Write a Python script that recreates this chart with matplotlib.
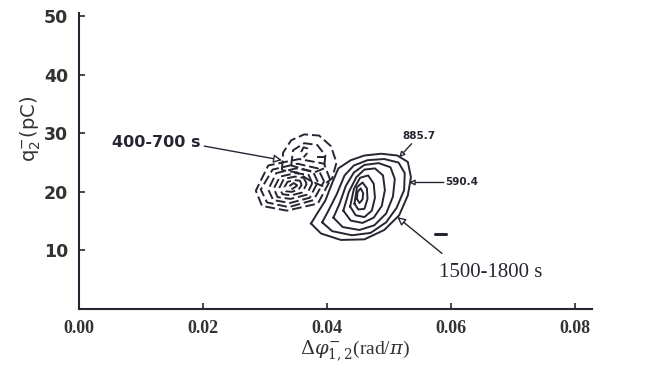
import matplotlib.pyplot as plt

# ticks
x_ticks = [0.00, 0.02, 0.04, 0.06, 0.08]
x_tick_labels = ['0.00', '0.02', '0.04', '0.06', '0.08']
y_ticks = [10, 20, 30, 40, 50]

# contour levels marked on the plot
level_labels = ['885.7', '590.4']
period_labels = ['400-700 s', '1500-1800 s']

# 1500-1800 s contours (solid), outer -> inner
solid_rings = [
    ([0.0374, 0.0390, 0.0422, 0.0460, 0.0492, 0.0516, 0.0530, 0.0535, 0.0530,
      0.0513, 0.0487, 0.0460, 0.0438, 0.0418, 0.0408, 0.0397, 0.0382],
     [14.6, 12.9, 11.8, 11.9, 13.5, 16.0, 19.4, 22.5, 25.1,
      26.2, 26.5, 26.2, 25.4, 24.0, 21.5, 18.5, 16.0]),
    ([0.0392, 0.0408, 0.0440, 0.0470, 0.0495, 0.0512, 0.0524, 0.0525, 0.0515,
      0.0492, 0.0465, 0.0443, 0.0428, 0.0415, 0.0402],
     [14.8, 13.3, 12.6, 13.0, 14.8, 17.3, 20.3, 23.2, 25.0,
      25.6, 25.4, 24.5, 22.8, 19.5, 16.8]),
    ([0.0410, 0.0425, 0.0452, 0.0476, 0.0495, 0.0506, 0.0509, 0.0502, 0.0483,
      0.0460, 0.0443, 0.0430, 0.0420],
     [15.6, 14.0, 13.5, 14.3, 16.3, 19.2, 22.2, 24.2, 24.9,
      24.6, 23.3, 21.0, 18.0]),
    ([0.0426, 0.0438, 0.0457, 0.0475, 0.0488, 0.0493, 0.0490, 0.0477, 0.0460,
      0.0447, 0.0435],
     [16.8, 15.1, 14.7, 15.6, 17.6, 20.3, 22.8, 24.0, 23.8, 22.5, 20.0]),
    ([0.0437, 0.0446, 0.0460, 0.0472, 0.0477, 0.0475, 0.0466, 0.0453, 0.0443],
     [17.5, 16.0, 15.7, 16.8, 19.0, 21.4, 22.8, 22.4, 20.5]),
    ([0.0444, 0.0450, 0.0460, 0.0465, 0.0464, 0.0457, 0.0448],
     [18.0, 17.0, 17.1, 18.8, 20.6, 21.6, 20.8]),
    ([0.0448, 0.0452, 0.0457, 0.0458, 0.0454, 0.0449],
     [18.8, 18.1, 18.7, 19.8, 20.6, 20.0]),
]
# small isolated contour right of the main peak
solid_blip = ([0.0573, 0.0592], [12.8, 12.8])

# 400-700 s contours (dashed), lower lobe outer -> inner
dashed_rings = [
    ([0.0405, 0.0395, 0.0355, 0.0305, 0.0285, 0.0295, 0.0335, 0.0385],
     [22.0, 24.8, 25.6, 24.5, 20.2, 17.6, 16.8, 18.0]),
    ([0.0395, 0.0385, 0.0352, 0.0312, 0.0293, 0.0303, 0.0338, 0.0378],
     [21.8, 24.0, 24.8, 23.8, 20.4, 18.2, 17.4, 18.6]),
    ([0.0385, 0.0377, 0.0350, 0.0318, 0.0305, 0.0313, 0.0340, 0.0372],
     [21.7, 23.5, 24.0, 23.2, 20.4, 18.6, 18.1, 19.0]),
    ([0.0376, 0.0370, 0.0349, 0.0324, 0.0314, 0.0320, 0.0341, 0.0367],
     [21.5, 22.9, 23.2, 22.6, 20.6, 19.1, 18.8, 19.5]),
    ([0.0367, 0.0362, 0.0348, 0.0330, 0.0323, 0.0328, 0.0342, 0.0360],
     [21.4, 22.4, 22.6, 22.2, 20.7, 19.6, 19.4, 19.9]),
    ([0.0359, 0.0356, 0.0347, 0.0336, 0.0331, 0.0334, 0.0343, 0.0354],
     [21.2, 21.9, 22.0, 21.7, 20.8, 20.1, 20.0, 20.4]),
    ([0.0352, 0.0346, 0.0338, 0.0344],
     [21.1, 21.5, 20.9, 20.5]),
    # upper lobe
    ([0.0327, 0.0329, 0.0342, 0.0363, 0.0387, 0.0406, 0.0415, 0.0408, 0.0392,
      0.0371, 0.0352],
     [23.7, 26.7, 28.8, 29.8, 29.6, 27.8, 25.0, 22.3, 21.0, 22.0, 23.3]),
    ([0.0342, 0.0345, 0.0363, 0.0384, 0.0397, 0.0395, 0.0379, 0.0358],
     [24.5, 27.1, 28.3, 28.0, 26.2, 24.0, 23.3, 24.0]),
]
# open dashed fragments inside the upper lobe
dashed_bits = [
    ([0.0358, 0.0362, 0.0368, 0.0367, 0.0362], [26.8, 27.6, 27.4, 26.5, 25.9]),
    ([0.0384, 0.0397], [25.9, 25.9]),
]

ink = '#262633'

fig = plt.figure(figsize=(6.55, 3.77), dpi=100)
ax = fig.add_axes([0.1206, 0.180, 0.7834, 0.7855])

for xs, ys in solid_rings:
    ax.plot(xs + xs[:1], ys + ys[:1], color=ink, lw=1.4, solid_joinstyle='round')
ax.plot(*solid_blip, color=ink, lw=2.2, solid_capstyle='round')

for xs, ys in dashed_rings:
    ax.plot(xs + xs[:1], ys + ys[:1], color=ink, lw=1.4, ls=(0, (5, 2)))
for xs, ys in dashed_bits:
    ax.plot(xs, ys, color=ink, lw=1.4, ls=(0, (5, 2)))

# 标注: 箭头和文字分开画
arrow_kw = dict(arrowstyle='-|>', color=ink, lw=1.0, fc='white',
                mutation_scale=12, shrinkA=0, shrinkB=0)
small_arrow = dict(arrow_kw, mutation_scale=8)

ax.text(0.0124, 28.5, period_labels[0], fontsize=11.5, fontweight='bold',
        color=ink, ha='center', va='center')
ax.annotate('', xy=(0.0327, 25.4), xytext=(0.0202, 27.8), arrowprops=arrow_kw)

ax.text(0.0663, 6.3, period_labels[1], fontsize=15, family='Liberation Serif',
        color=ink, ha='center', va='center')
ax.annotate('', xy=(0.0513, 15.7), xytext=(0.0585, 9.5), arrowprops=arrow_kw)

ax.text(0.0548, 29.5, level_labels[0], fontsize=7.5, fontweight='bold',
        color=ink, ha='center', va='center')
ax.annotate('', xy=(0.0516, 25.9), xytext=(0.0536, 28.2), arrowprops=small_arrow)

ax.text(0.0590, 21.6, level_labels[1], fontsize=7.5, fontweight='bold',
        color=ink, ha='left', va='center')
ax.annotate('', xy=(0.0532, 21.6), xytext=(0.0588, 21.6), arrowprops=small_arrow)

ax.set_xlim(0, 0.0827)
ax.set_ylim(0, 50.5)
ax.spines['top'].set_visible(False)
ax.spines['right'].set_visible(False)
for s in ('left', 'bottom'):
    ax.spines[s].set_linewidth(1.5)
    ax.spines[s].set_color(ink)

ax.set_xticks(x_ticks)
ax.set_xticklabels(x_tick_labels, family='Liberation Serif', fontweight='bold',
                   fontsize=13, color='#333333')
ax.set_yticks(y_ticks)
ax.set_yticklabels([str(v) for v in y_ticks], family='DejaVu Sans',
                   fontweight='bold', fontsize=12.5, color='#333333')
ax.tick_params(direction='in', length=4, width=1.2, color=ink, pad=8)

ax.set_xlabel(r'$\Delta\varphi^{-}_{1,2}$(rad/$\pi$)', family='Liberation Serif',
              fontsize=14, color='#333333', math_fontfamily='dejavuserif')
ax.xaxis.set_label_coords(0.538, -0.10)
ax.set_ylabel(r'$\mathrm{q}_{2}^{-}$(pC)', family='DejaVu Sans', fontsize=14,
              color='#333333')
ax.yaxis.set_label_coords(-0.07, 0.61)

fig.savefig('out.png', dpi=100)
